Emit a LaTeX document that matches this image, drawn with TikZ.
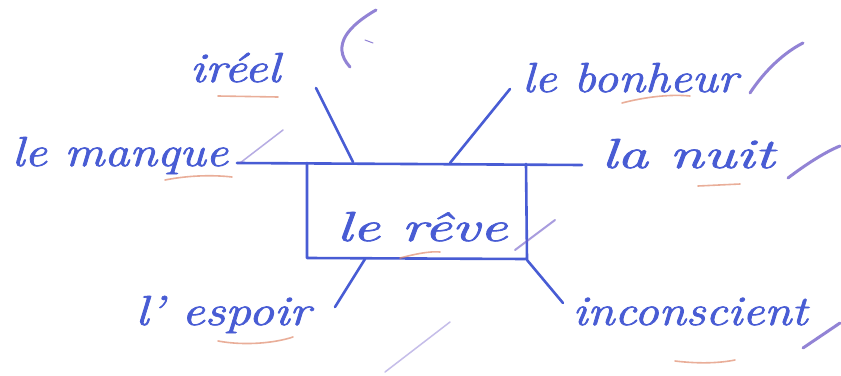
\documentclass[tikz,border=0pt]{standalone}
\usepackage{fontspec}
\setmainfont{Latin Modern Roman}[ItalicFeatures={FakeBold=1.6}]
\definecolor{ink}{RGB}{72,92,212}
\definecolor{violet}{RGB}{110,90,200}
\definecolor{orangeink}{RGB}{225,140,110}
\begin{document}
\begin{tikzpicture}[x=1pt,y=-1pt,
  word/.style={text=ink,font=\fontsize{42}{46}\selectfont\itshape,inner sep=0pt,anchor=base},
  pen/.style={draw=ink,line width=2.6pt,line cap=round,line join=round},
  scribble/.style={draw=violet,line width=3pt,line cap=round,opacity=0.75},
  under/.style={draw=orangeink,line width=1.6pt,line cap=round,opacity=0.7}]
\useasboundingbox[fill=white] (0,0) rectangle (841,375);
% words
\node[word,xscale=1.22] (ireel) at (235,82) {iréel};
\node[word,xscale=1.17] (bonheur) at (630,92) {le bonheur};
\node[word,xscale=1.19] (manque) at (120,166) {le manque};
\node[word,xscale=1.47] (nuit) at (688,168) {la nuit};
\node[word,xscale=1.47] (reve) at (422,241) {le rêve};
\node[word,xscale=1.22] (espoir) at (223,325) {l' espoir};
\node[word,xscale=1.17] (incon) at (690,325) {inconscient};
% structure
\coordinate (tl) at (237,163);
\coordinate (tr) at (582,165);
\coordinate (bxtl) at (307,163);
\coordinate (bxbl) at (307,258);
\coordinate (bxbr) at (527,259);
\coordinate (bxtr) at (526,164);
\draw[pen] (tl) -- (tr);
\draw[pen] (bxtl) -- (bxbl) -- (bxbr) -- (bxtr);
\coordinate (a1) at (316,88);  \coordinate (a2) at (353,162);
\coordinate (b1) at (510,89);  \coordinate (b2) at (450,163);
\coordinate (c1) at (365,259); \coordinate (c2) at (335,307);
\coordinate (d1) at (527,260); \coordinate (d2) at (563,303);
\draw[pen] (a1) -- (a2);
\draw[pen] (b1) -- (b2);
\draw[pen] (c1) -- (c2);
\draw[pen] (d1) -- (d2);
% violet scribbles
\draw[scribble] (376,10) .. controls (350,25) and (330,45) .. (350,67);
\draw[scribble,line width=1pt] (365,40) -- (373,43);
\draw[scribble,line width=1.5pt,opacity=0.5] (240,163) -- (283,130);
\draw[scribble] (750,93) .. controls (765,70) and (785,52) .. (803,43);
\draw[scribble] (788,178) .. controls (805,165) and (825,152) .. (840,146);
\draw[scribble,line width=2pt,opacity=0.6] (515,250) -- (555,220);
\draw[scribble,line width=1.5pt,opacity=0.4] (385,372) -- (450,322);
\draw[scribble] (803,348) -- (840,323);
% orange underlines
\draw[under] (218,96) -- (278,97);
\draw[under] (165,180) .. controls (190,175) and (215,175) .. (232,177);
\draw[under] (622,103) .. controls (645,97) and (670,94) .. (690,96);
\draw[under] (698,186) -- (740,184);
\draw[under] (400,258) .. controls (415,254) and (430,251) .. (440,252);
\draw[under] (218,341) .. controls (245,346) and (275,343) .. (293,337);
\draw[under] (675,361) .. controls (700,364) and (720,363) .. (735,360);
\end{tikzpicture}
\end{document}
